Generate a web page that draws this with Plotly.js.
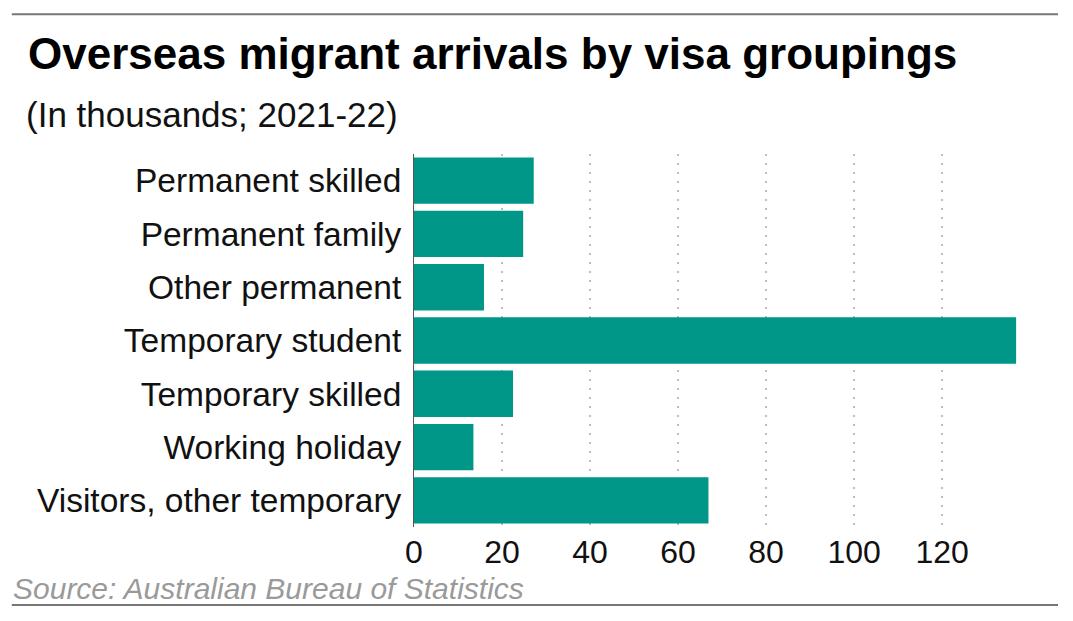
<!DOCTYPE html>
<html>
<head>
<meta charset="utf-8">
<script src="https://cdn.plot.ly/plotly-3.0.1.min.js"></script>
<style>
  html, body { margin: 0; padding: 0; background: #fff; }
  #chart { width: 1073px; height: 621px; }
</style>
</head>
<body>
<div id="chart"></div>
<script>
const categories = [
  "Permanent skilled",
  "Permanent family",
  "Other permanent",
  "Temporary student",
  "Temporary skilled",
  "Working holiday",
  "Visitors, other temporary"
];
const arrivals = [27.2, 24.8, 15.9, 136.8, 22.5, 13.5, 66.9];
const tickValues = [0, 20, 40, 60, 80, 100, 120];

const titleText = "Overseas migrant arrivals by visa groupings";
const subtitleText = "(In thousands; 2021-22)";
const sourceText = "Source: Australian Bureau of Statistics";

const FONT = "Liberation Sans, Arial, Helvetica, sans-serif";

const trace = {
  type: "bar",
  orientation: "h",
  x: arrivals,
  y: categories,
  marker: { color: "#009688", line: { width: 0 } },
  hoverinfo: "x+y"
};

const layout = {
  width: 1073,
  height: 621,
  margin: { l: 414, r: 56, t: 154, b: 94 },
  paper_bgcolor: "#ffffff",
  plot_bgcolor: "#ffffff",
  bargap: 0.13,
  showlegend: false,
  font: { family: FONT, color: "#111" },
  xaxis: {
    range: [0, 137],
    tickvals: tickValues,
    ticktext: tickValues.map(String),
    showgrid: true,
    gridcolor: "#bdbdbd",
    gridwidth: 2,
    griddash: "2px,7px",
    zeroline: false,
    showline: false,
    ticks: "",
    ticklabelstandoff: 3,
    tickfont: { family: FONT, size: 32, color: "#111" },
    fixedrange: true
  },
  yaxis: {
    autorange: "reversed",
    showgrid: false,
    zeroline: false,
    showline: true,
    linecolor: "#555",
    linewidth: 1,
    ticks: "",
    ticklabelstandoff: 5,
    tickfont: { family: FONT, size: 33.5, color: "#111" },
    fixedrange: true
  },
  annotations: [
    {
      text: "<b>" + titleText + "</b>",
      xref: "paper", yref: "paper",
      x: -0.643, y: 1.27,
      xanchor: "left", yanchor: "middle",
      showarrow: false,
      font: { family: FONT, size: 44, color: "#000" }
    },
    {
      text: subtitleText,
      xref: "paper", yref: "paper",
      x: -0.646, y: 1.106,
      xanchor: "left", yanchor: "middle",
      showarrow: false,
      font: { family: FONT, size: 35, color: "#111" }
    },
    {
      text: "<i>" + sourceText + "</i>",
      xref: "paper", yref: "paper",
      x: -0.669, y: -0.164,
      xanchor: "left", yanchor: "middle",
      showarrow: false,
      font: { family: FONT, size: 30, color: "#9a9a9a" }
    }
  ],
  shapes: [
    {
      type: "line", xref: "paper", yref: "paper",
      x0: -0.667, x1: 1.068, y0: 1.3745, y1: 1.3745,
      line: { color: "#777", width: 2 }
    },
    {
      type: "line", xref: "paper", yref: "paper",
      x0: -0.667, x1: 1.068, y0: -0.209, y1: -0.209,
      line: { color: "#777", width: 2 }
    }
  ]
};

Plotly.newPlot("chart", [trace], layout, { displayModeBar: false, staticPlot: true });
</script>
</body>
</html>
